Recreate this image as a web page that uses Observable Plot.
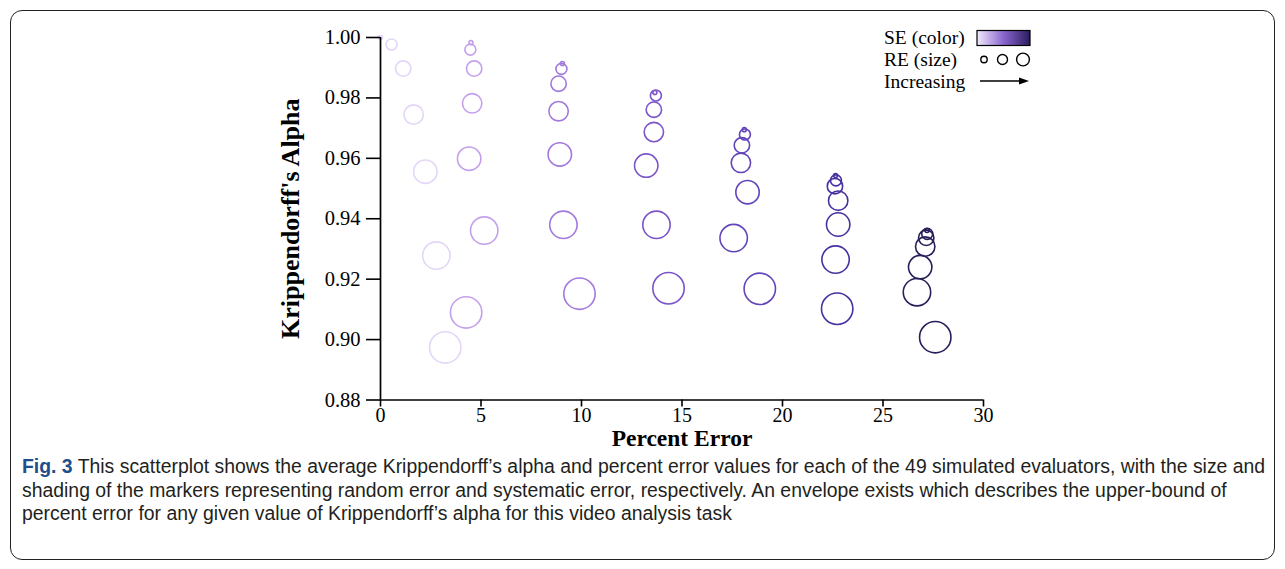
<!DOCTYPE html>
<html>
<head>
<meta charset="utf-8">
<script src="https://cdn.jsdelivr.net/npm/d3@7"></script>
<script src="https://cdn.jsdelivr.net/npm/@observablehq/plot@0.6"></script>
<style>
  html, body { margin: 0; padding: 0; background: #fff; }
  #page { position: relative; width: 1285px; height: 569px; overflow: hidden; }
  #frame { position: absolute; left: 10px; top: 10px; width: 1263px; height: 548px;
           border: 1.5px solid #222; border-radius: 12px; }
  #chart { position: absolute; left: 0; top: 0; }
  #legend { position: absolute; left: 0; top: 0; }
  #caption { position: absolute; left: 22px; top: 455px; font-family: "Liberation Sans", Arial, sans-serif;
             font-size: 19.4px; line-height: 23.6px; color: #231f20; white-space: nowrap; }
  #caption b { color: #1f4f8a; }
</style>
</head>
<body>
<div id="page">
  <div id="frame"></div>
  <div id="chart"></div>
  <svg id="legend" width="1285" height="120"></svg>
  <div id="caption"><b>Fig. 3</b> This scatterplot shows the average Krippendorff’s alpha and percent error values for each of the 49 simulated evaluators, with the size and<br>shading of the markers representing random error and systematic error, respectively. An envelope exists which describes the upper-bound of<br>percent error for any given value of Krippendorff’s alpha for this video analysis task</div>
</div>
<script>
// Systematic error level (color) for each column of markers, random error level (size) within columns
const seLevels = [1, 2, 3, 4, 5, 6, 7];
const reLevels = [1, 2, 3, 4, 5, 6, 7];

// Percent error (x) per SE level, ordered by RE level
const pctErrSE1 = [0.0, 0.55, 1.13, 1.65, 2.23, 2.78, 3.22];
const pctErrSE2 = [4.5, 4.47, 4.66, 4.56, 4.41, 5.16, 4.26];
const pctErrSE3 = [9.05, 9.0, 8.86, 8.86, 8.92, 9.1, 9.9];
const pctErrSE4 = [13.65, 13.7, 13.6, 13.6, 13.22, 13.73, 14.33];
const pctErrSE5 = [18.1, 18.13, 17.98, 17.93, 18.26, 17.57, 18.87];
const pctErrSE6 = [22.64, 22.66, 22.61, 22.77, 22.77, 22.64, 22.72];
const pctErrSE7 = [27.19, 27.2, 27.15, 27.1, 26.85, 26.69, 27.6];

// Krippendorff's alpha (y) per SE level, ordered by RE level
const alphaSE1 = [1.000, 0.9977, 0.9897, 0.9745, 0.9556, 0.9278, 0.8974];
const alphaSE2 = [0.9983, 0.9960, 0.9897, 0.9782, 0.9599, 0.9361, 0.9090];
const alphaSE3 = [0.9914, 0.9896, 0.9847, 0.9756, 0.9613, 0.9380, 0.9152];
const alphaSE4 = [0.9818, 0.9808, 0.9761, 0.9687, 0.9576, 0.9380, 0.9170];
const alphaSE5 = [0.9695, 0.9679, 0.9643, 0.9585, 0.9488, 0.9336, 0.9168];
const alphaSE6 = [0.9543, 0.9527, 0.9508, 0.9460, 0.9381, 0.9265, 0.9102];
const alphaSE7 = [0.9361, 0.9350, 0.9337, 0.9308, 0.9240, 0.9157, 0.9008];

const xTicks = [0, 5, 10, 15, 20, 25, 30];
const yTicks = [0.88, 0.90, 0.92, 0.94, 0.96, 0.98, 1.00];
const seColors = ["#e4d6f6", "#c4a0ec", "#a279dd", "#7b55ca", "#6345ba", "#4930a1", "#26205a"];
const reRadii = [2, 5.5, 7.7, 9.7, 11.7, 13.7, 15.7];
const legendLabels = ["SE (color)", "RE (size)", "Increasing"];

const pctErr = [pctErrSE1, pctErrSE2, pctErrSE3, pctErrSE4, pctErrSE5, pctErrSE6, pctErrSE7];
const alpha = [alphaSE1, alphaSE2, alphaSE3, alphaSE4, alphaSE5, alphaSE6, alphaSE7];

const data = [];
seLevels.forEach((se, i) => {
  reLevels.forEach((re, j) => {
    data.push({se, re, x: pctErr[i][j], y: alpha[i][j]});
  });
});
// draw large circles first so small ones stay visible
data.sort((a, b) => b.re - a.re);

const W = 1285, H = 460;
const serif = "'Liberation Serif', 'Times New Roman', serif";
const chart = Plot.plot({
  width: W,
  height: H,
  marginLeft: 380,
  marginRight: W - 983,
  marginTop: 37,
  marginBottom: H - 399.5,
  style: {fontFamily: serif, fontSize: "20px", color: "black", background: "transparent", overflow: "visible"},
  x: {domain: [0, 30]},
  y: {domain: [0.88, 1.00]},
  r: {type: "linear", domain: reLevels, range: reRadii},
  color: {type: "ordinal", domain: seLevels, range: seColors},
  marks: [
    Plot.dot(data, {x: "x", y: "y", r: "re", stroke: "se", fill: "none", strokeWidth: 1.6}),
    Plot.ruleY([0.88], {stroke: "black", strokeWidth: 1.7}),
    Plot.ruleX([0], {stroke: "black", strokeWidth: 1.7}),
    Plot.axisX({ticks: xTicks, tickSize: 7, tickPadding: 1, strokeWidth: 1.6, fontSize: 20, label: null}),
    Plot.axisY({ticks: yTicks, tickSize: 14, tickPadding: 6, strokeWidth: 1.6, fontSize: 20.5, tickFormat: d3.format(".2f"), label: null}),
    Plot.text(["Percent Error"], {frameAnchor: "bottom", dy: 38, fontWeight: "bold", fontSize: 23.5, fill: "black", lineAnchor: "middle", textAnchor: "middle"}),
    Plot.text(["Krippendorff's Alpha"], {frameAnchor: "left", dx: -90, rotate: -90, fontWeight: "bold", fontSize: 26, fill: "black", lineAnchor: "middle", textAnchor: "middle"})
  ]
});
document.getElementById("chart").appendChild(chart);

// Legend
const lg = d3.select("#legend");
const defs = lg.append("defs");
const grad = defs.append("linearGradient").attr("id", "seGrad");
grad.append("stop").attr("offset", "0%").attr("stop-color", "#f1eafb");
grad.append("stop").attr("offset", "50%").attr("stop-color", "#8a66cf");
grad.append("stop").attr("offset", "100%").attr("stop-color", "#2a1c5e");
lg.selectAll("text.l").data(legendLabels).join("text")
  .attr("x", 884).attr("y", (d, i) => 38 + i * 22).attr("dy", "0.33em")
  .attr("font-family", serif).attr("font-size", 19.5).attr("fill", "black").text(d => d);
lg.append("rect").attr("x", 977).attr("y", 30.5).attr("width", 53).attr("height", 15)
  .attr("fill", "url(#seGrad)").attr("stroke", "black").attr("stroke-width", 1.2);
[[984, 3.2], [1002.5, 5], [1023, 6.4]].forEach(([cx, r]) => {
  lg.append("circle").attr("cx", cx).attr("cy", 59.5).attr("r", r)
    .attr("fill", "none").attr("stroke", "black").attr("stroke-width", 1.4);
});
lg.append("line").attr("x1", 980).attr("x2", 1020).attr("y1", 81).attr("y2", 81)
  .attr("stroke", "black").attr("stroke-width", 1.5);
lg.append("path").attr("d", "M1029,81 L1019,77.5 L1019,84.5 Z").attr("fill", "black");
</script>
</body>
</html>
